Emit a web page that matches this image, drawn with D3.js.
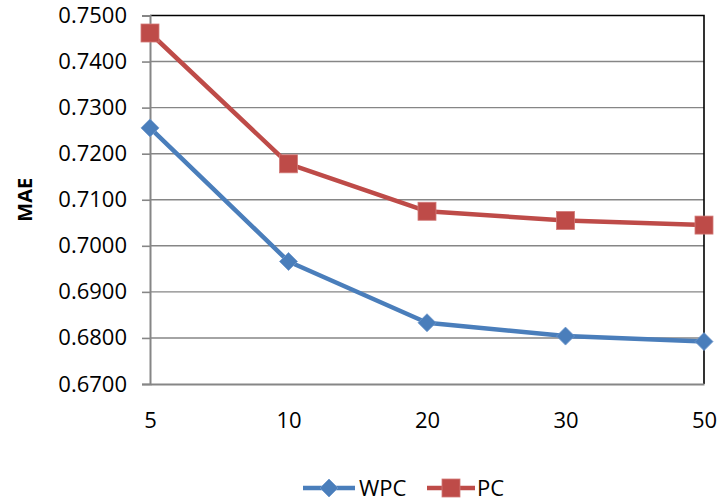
<!DOCTYPE html>
<html>
<head>
<meta charset="utf-8">
<script src="https://cdn.jsdelivr.net/npm/d3@7"></script>
<style>
  body { margin: 0; background: #fff; }
  svg text { font-family: "Open Sans", "Liberation Sans", sans-serif; fill: #000; }
</style>
</head>
<body>
<div id="chart"></div>
<script>
// Chart data
var categories = ['5', '10', '20', '30', '50'];
var wpcValues = [0.7256, 0.6966, 0.6833, 0.6804, 0.6792];
var pcValues = [0.7462, 0.7178, 0.7075, 0.7055, 0.7045];
var yTicks = [0.67, 0.68, 0.69, 0.70, 0.71, 0.72, 0.73, 0.74, 0.75];

var series = [
    { name: 'WPC', values: wpcValues, color: '#4A7EBB', marker: 'diamond' },
    { name: 'PC', values: pcValues, color: '#BE4B48', marker: 'square' }
];

var width = 717,
    height = 501,
    margin = { left: 150, right: 13, top: 15.5, bottom: 117 };

var svg = d3.select('#chart').append('svg')
    .attr('width', width)
    .attr('height', height);

var x = d3.scalePoint()
    .domain(categories)
    .range([margin.left, width - margin.right]);

var y = d3.scaleLinear()
    .domain([0.67, 0.75])
    .range([height - margin.bottom, margin.top]);

// Gridlines
svg.append('g')
    .selectAll('line')
    .data(yTicks.slice(1, -1))
    .enter()
    .append('line')
    .attr('x1', margin.left)
    .attr('x2', width - margin.right)
    .attr('y1', function (d) { return y(d); })
    .attr('y2', function (d) { return y(d); })
    .attr('stroke', '#868686')
    .attr('stroke-width', 1.4);

// Plot border top and right (black)
svg.append('path')
    .attr('d', 'M' + margin.left + ',' + y(0.75) + 'H' + (width - margin.right) + 'V' + y(0.67))
    .attr('fill', 'none')
    .attr('stroke', '#000')
    .attr('stroke-width', 1.6);

// Y axis
var yAxis = d3.axisLeft(y)
    .tickValues(yTicks)
    .tickSize(8)
    .tickPadding(15)
    .tickFormat(d3.format('.4f'));

var yG = svg.append('g')
    .attr('transform', 'translate(' + margin.left + ',0)')
    .call(yAxis);
yG.select('.domain').attr('stroke', '#868686').attr('stroke-width', 2);
yG.selectAll('.tick line').attr('stroke', '#868686').attr('stroke-width', 1.6);
yG.selectAll('.tick text').style('font-size', '22px');

// X axis (labels only, gray baseline)
var xAxis = d3.axisBottom(x).tickSize(0).tickPadding(28);
var xG = svg.append('g')
    .attr('transform', 'translate(0,' + y(0.67) + ')')
    .call(xAxis);
xG.select('.domain').attr('stroke', '#868686').attr('stroke-width', 2.2);
xG.selectAll('.tick text').style('font-size', '22px');

// Y axis title
svg.append('text')
    .attr('transform', 'translate(32,' + ((y(0.75) + y(0.67)) / 2) + ') rotate(-90)')
    .attr('text-anchor', 'middle')
    .style('font-size', '20px')
    .style('font-weight', 'bold')
    .text('MAE');

var line = d3.line()
    .x(function (d, i) { return x(categories[i]); })
    .y(function (d) { return y(d); });

function drawMarker(g, type, color, cx, cy) {
    if (type === 'diamond') {
        g.append('path')
            .attr('d', 'M' + cx + ',' + (cy - 9) + 'L' + (cx + 9) + ',' + cy + 'L' + cx + ',' + (cy + 9) + 'L' + (cx - 9) + ',' + cy + 'Z')
            .attr('fill', color)
            .attr('stroke', '#6d97cb')
            .attr('stroke-width', 0.8);
    } else {
        g.append('rect')
            .attr('x', cx - 9)
            .attr('y', cy - 9)
            .attr('width', 18)
            .attr('height', 18)
            .attr('fill', color)
            .attr('stroke', '#d27a78')
            .attr('stroke-width', 0.8);
    }
}

series.forEach(function (s) {
    var g = svg.append('g');
    g.append('path')
        .datum(s.values)
        .attr('d', line)
        .attr('fill', 'none')
        .attr('stroke', s.color)
        .attr('stroke-width', 4.5)
        .attr('stroke-linejoin', 'round');
    s.values.forEach(function (v, i) {
        drawMarker(g, s.marker, s.color, x(categories[i]), y(v));
    });
});

// Legend
var legend = svg.append('g').attr('transform', 'translate(0,488)');
var legendItems = [
    { x: 303, textX: 359 },
    { x: 427, textX: 477 }
];
series.forEach(function (s, i) {
    var it = legendItems[i];
    var lw = s.marker === 'diamond' ? 52 : 48;
    legend.append('line')
        .attr('x1', it.x)
        .attr('x2', it.x + lw)
        .attr('y1', 0)
        .attr('y2', 0)
        .attr('stroke', s.color)
        .attr('stroke-width', 4.5);
    drawMarker(legend, s.marker, s.color, it.x + lw / 2, 0);
    legend.append('text')
        .attr('x', it.textX)
        .attr('y', 0)
        .attr('dy', '0.35em')
        .style('font-size', '22px')
        .text(s.name);
});
</script>
</body>
</html>
